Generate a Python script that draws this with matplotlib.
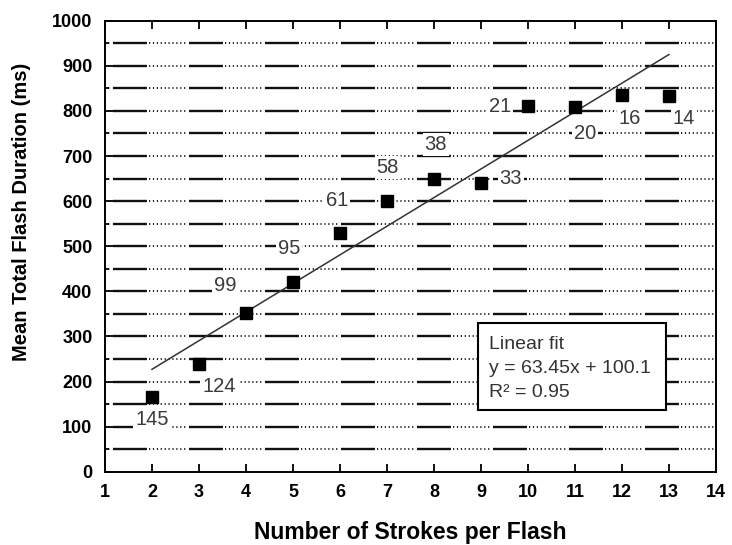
import matplotlib
matplotlib.use('Agg')
import matplotlib.pyplot as plt
from matplotlib.patches import Rectangle
import numpy as np

plt.rcParams['font.family'] = ['Liberation Sans', 'DejaVu Sans']
plt.rcParams['lines.scale_dashes'] = False

# 数据
strokes = [2, 3, 4, 5, 6, 7, 8, 9, 10, 11, 12, 13]
duration = [166, 239, 351, 420, 529, 600, 648, 641, 811, 808, 835, 833]
counts = ['145', '124', '99', '95', '61', '58', '38', '33', '21', '20', '16', '14']
fit_slope = 63.45
fit_intercept = 100.1
fit_r2 = 0.95

# 标签偏移 (像素)
label_offsets = [(0, -23), (20, -23), (-21, 28), (-4, 34), (-3, 33), (1, 34),
                 (2, 35), (30, 4), (-28, -1), (10, -26), (8, -23), (15, -22)]

fig = plt.figure(figsize=(7.32, 5.45), dpi=100)
ax = fig.add_axes([0.1434, 0.1345, 0.978 - 0.1434, 0.962 - 0.1345])

ax.set_xlim(1, 14)
ax.set_ylim(0, 1000)

# 网格线: 长划线 + 点线
px = 0.72
dots = []
for _ in range(10):
    dots += [1.2 * px, 2.7 * px]
dots[-1] += 76 * px - sum(dots)
for yv in range(50, 1000, 50):
    ax.plot([1, 14], [yv, yv], color='#111111', lw=1.7, zorder=1,
            linestyle=(49.0, (34 * px, 42 * px)))
    ax.plot([1, 14], [yv, yv], color='#111111', lw=1.3, zorder=1,
            linestyle=(32 * px, tuple(dots)))

# 拟合线
xf = np.array([strokes[0], strokes[-1]])
ax.plot(xf, fit_slope * xf + fit_intercept, color='#333333', lw=1.1, zorder=3)

# 数据点
ax.plot(strokes, duration, 's', color='black', markersize=8, zorder=4)

for x, y, c, off in zip(strokes, duration, counts, label_offsets):
    ax.annotate(c, (x, y), xytext=off, textcoords='offset pixels',
                ha='center', va='center', fontsize=14.5, color='#3a3a3a',
                bbox=dict(boxstyle='square,pad=0.1', fc='white', ec='none'),
                zorder=5)

# 拟合说明框
ax.add_patch(Rectangle((0.6105, 0.1368), 0.918 - 0.6105, 0.3297 - 0.1368,
                       transform=ax.transAxes, fc='white', ec='black', lw=1.5, zorder=6))
fit_lines = ['Linear fit', 'y = %.2fx + %.1f' % (fit_slope, fit_intercept), 'R² = %.2f' % fit_r2]
for i, t in enumerate(fit_lines):
    ax.text(0.628, 0.272 - 0.053 * i, t, transform=ax.transAxes, fontsize=14,
            color='#333333', va='baseline', ha='left', zorder=7)

ax.set_xticks(range(1, 15))
ax.set_yticks(range(0, 1001, 100))
ax.set_yticks(range(0, 1001, 50), minor=True)
ax.tick_params(axis='x', direction='in', top=True, length=6, width=1.3,
               labelsize=13, pad=9)
ax.tick_params(axis='y', which='major', direction='in', length=6, width=1.3,
               labelsize=13, pad=9)
ax.tick_params(axis='y', which='minor', direction='in', length=3, width=1.3)
for lab in ax.get_xticklabels() + ax.get_yticklabels():
    lab.set_fontweight('bold')

for s in ax.spines.values():
    s.set_linewidth(1.4)

ax.set_xlabel('Number of Strokes per Flash', fontsize=16.5, fontweight='bold', labelpad=14)
ax.set_ylabel('Mean Total Flash Duration (ms)', fontsize=14.5, fontweight='bold')
ax.yaxis.set_label_coords(-0.121, 0.576)

plt.savefig('out.png', dpi=100)
plt.close()
